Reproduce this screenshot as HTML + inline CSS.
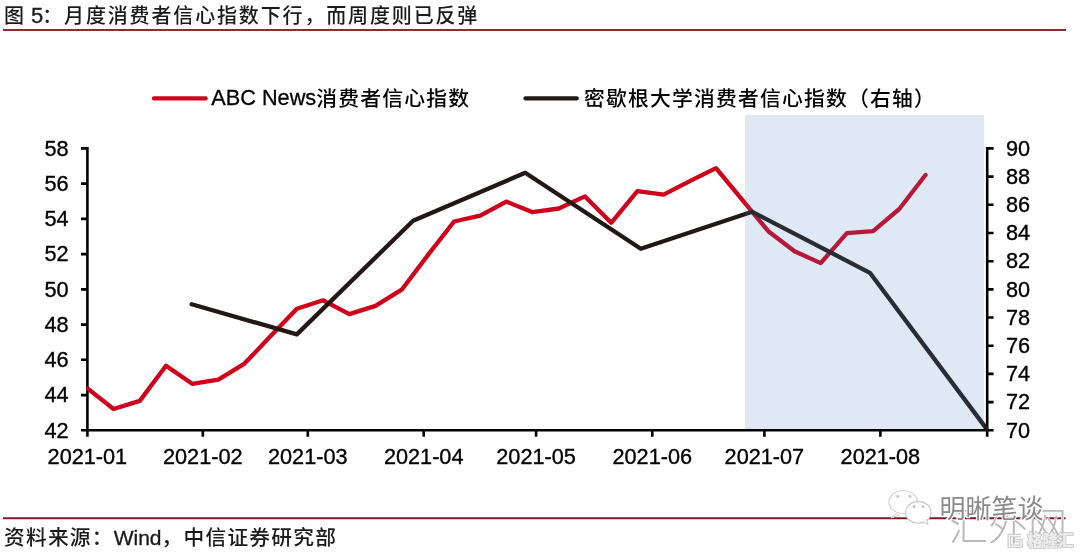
<!DOCTYPE html>
<html><head><meta charset="utf-8"><style>
html,body{margin:0;padding:0;background:#fff;}
body{width:1080px;height:556px;overflow:hidden;position:relative;}
svg{position:absolute;left:0;top:0;}
.t{font-family:"Liberation Sans","Noto Sans CJK SC",sans-serif;font-size:21.7px;fill:#000;stroke:#000;stroke-width:0.35px;}
.lg{font-family:"Liberation Sans","Noto Sans CJK SC",sans-serif;font-size:22px;font-weight:500;fill:#000;}
.ti{font-family:"Liberation Sans","Noto Sans CJK SC",sans-serif;font-size:22px;font-weight:500;fill:#1a1a1a;}
</style></head><body>
<svg width="1080" height="556" viewBox="0 0 1080 556">
<path d="M81.0,148.4H87.4V430.3M81.0,148.4H87.4M81.0,183.6H87.4M81.0,218.9H87.4M81.0,254.1H87.4M81.0,289.4H87.4M81.0,324.6H87.4M81.0,359.8H87.4M81.0,395.1H87.4M81.0,430.3H87.4M987.2,148.4H993.6M987.2,176.6H993.6M987.2,204.8H993.6M987.2,233.0H993.6M987.2,261.2H993.6M987.2,289.4H993.6M987.2,317.5H993.6M987.2,345.7H993.6M987.2,373.9H993.6M987.2,402.1H993.6M987.2,430.3H993.6M993.6,148.4H987.2V430.3M81.0,430.3H993.6M87.4,430.3V436.7M202.8,430.3V436.7M307.8,430.3V436.7M423.7,430.3V436.7M536.1,430.3V436.7M652.3,430.3V436.7M764.4,430.3V436.7M880.4,430.3V436.7M987.2,430.3V436.7" fill="none" stroke="#000" stroke-width="2.6"/>
<defs><clipPath id="pc"><rect x="86.2" y="100" width="902" height="331"/></clipPath></defs>
<polyline clip-path="url(#pc)" points="87.4,388.4 113.6,409.0 139.8,400.9 166.0,365.7 192.2,383.8 218.4,379.6 244.5,363.6 270.7,336.1 296.9,308.8 323.1,300.3 349.3,314.1 375.5,305.9 401.7,289.7 427.9,255.1 454.1,221.5 480.2,215.7 506.4,201.6 532.6,212.2 558.8,208.5 585.0,196.4 611.2,222.8 637.4,191.1 663.6,194.6 689.8,181.1 716.0,168.1 742.1,199.6 768.3,231.2 794.5,251.3 820.7,263.1 846.9,233.2 873.1,231.2 899.3,209.0 925.5,175.0" fill="none" stroke="#d0021b" stroke-width="4.3" stroke-linejoin="round" stroke-linecap="round"/>
<polyline clip-path="url(#pc)" points="191.7,304.2 296.8,334.4 413.1,220.8 525.2,172.8 640.8,248.8 752.2,211.8 869.9,272.8 987.2,429.6" fill="none" stroke="#231815" stroke-width="4.3" stroke-linejoin="round" stroke-linecap="round"/>
<rect x="745" y="115" width="239" height="314.1" fill="#4a86c8" fill-opacity="0.18"/>
<text x="68.7" y="155.6" text-anchor="end" class="t">58</text>
<text x="68.7" y="190.8" text-anchor="end" class="t">56</text>
<text x="68.7" y="226.1" text-anchor="end" class="t">54</text>
<text x="68.7" y="261.3" text-anchor="end" class="t">52</text>
<text x="68.7" y="296.6" text-anchor="end" class="t">50</text>
<text x="68.7" y="331.8" text-anchor="end" class="t">48</text>
<text x="68.7" y="367.0" text-anchor="end" class="t">46</text>
<text x="68.7" y="402.3" text-anchor="end" class="t">44</text>
<text x="68.7" y="437.5" text-anchor="end" class="t">42</text>
<text x="1006" y="155.6" class="t">90</text>
<text x="1006" y="183.8" class="t">88</text>
<text x="1006" y="212.0" class="t">86</text>
<text x="1006" y="240.2" class="t">84</text>
<text x="1006" y="268.4" class="t">82</text>
<text x="1006" y="296.6" class="t">80</text>
<text x="1006" y="324.7" class="t">78</text>
<text x="1006" y="352.9" class="t">76</text>
<text x="1006" y="381.1" class="t">74</text>
<text x="1006" y="409.3" class="t">72</text>
<text x="1006" y="437.5" class="t">70</text>
<text x="87.4" y="463.6" text-anchor="middle" class="t">2021-01</text>
<text x="202.8" y="463.6" text-anchor="middle" class="t">2021-02</text>
<text x="307.8" y="463.6" text-anchor="middle" class="t">2021-03</text>
<text x="423.7" y="463.6" text-anchor="middle" class="t">2021-04</text>
<text x="536.1" y="463.6" text-anchor="middle" class="t">2021-05</text>
<text x="652.3" y="463.6" text-anchor="middle" class="t">2021-06</text>
<text x="764.4" y="463.6" text-anchor="middle" class="t">2021-07</text>
<text x="880.4" y="463.6" text-anchor="middle" class="t">2021-08</text>
<path d="M154,98.4H205.6" stroke="#d0021b" stroke-width="4.3" stroke-linecap="round"/>
<path d="M525.5,98.4H576.7" stroke="#231815" stroke-width="4.3" stroke-linecap="round"/>
<text x="211.3" y="105.3" class="lg" fill="#000"><tspan style="font-size:21.7px;letter-spacing:0px;stroke:#000;stroke-width:0.3px">ABC News</tspan><tspan dy="0.9" style="font-size:20.8px;letter-spacing:1.2px;font-weight:500">消费者信心指数</tspan></text>
<text x="584" y="106.2" class="lg" fill="#000"><tspan style="font-size:20.8px;letter-spacing:1.2px;font-weight:500">密歇根大学消费者信心指数（右轴）</tspan></text>
<text x="4" y="23.3" class="ti" fill="#111"><tspan style="font-size:20px;letter-spacing:1.85px;font-weight:500">图</tspan><tspan style="font-size:22px;letter-spacing:-1.0px;stroke:#111;stroke-width:0.3px"> 5</tspan><tspan style="font-size:20px;letter-spacing:1.85px;font-weight:500">：月度消费者信心指数下行，而周度则已反弹</tspan></text>
<path d="M3,30H1066" stroke="#8c2c32" stroke-width="2.1"/>
<path d="M3,518.3H1065.5" stroke="#7a1a29" stroke-width="1.9"/>
<text x="4" y="545.3" class="ti" fill="#111"><tspan style="font-size:20.7px;letter-spacing:1.25px;font-weight:500">资料来源：</tspan><tspan style="font-size:21px;letter-spacing:0px;stroke:#111;stroke-width:0.3px">Wind</tspan><tspan style="font-size:20.7px;letter-spacing:1.25px;font-weight:500">，中信证券研究部</tspan></text>
<g>
<text x="949" y="540" style="font-family:'Noto Sans CJK SC',sans-serif;font-size:39px;font-weight:300;letter-spacing:0.5px" fill="#b8b8b8" stroke="#fff" stroke-width="1" paint-order="stroke">汇外网</text>
<path d="M1021,535.6H1009.3V546.3H1021V540.6H1015.5" fill="none" stroke="#cdcdcd" stroke-width="3.6"/>
<path d="M1021,535.6H1009.3V546.3H1021V540.6H1015.5" fill="none" stroke="#f6f6f6" stroke-width="1.3"/>
<text x="1027" y="546" style="font-family:'Noto Sans CJK SC',sans-serif;font-size:15.5px;font-weight:900" fill="#ededed" stroke="#c4c4c4" stroke-width="1.5" paint-order="stroke">格隆汇</text>
<path d="M896,513.5 L891,518 L899,515.2 Z" fill="#fff" stroke="#cfcfcf" stroke-width="1"/>
<ellipse cx="903.2" cy="502.1" rx="14.3" ry="11.3" fill="#fff" stroke="#cfcfcf" stroke-width="1.1"/>
<circle cx="897.8" cy="496.4" r="1.3" fill="#bdbdbd"/><circle cx="910.2" cy="496.4" r="1.3" fill="#bdbdbd"/>
<ellipse cx="918.3" cy="512.4" rx="12.7" ry="10.8" fill="#fff" stroke="#c8c8c8" stroke-width="1.1"/>
<path d="M923.5,521.8 L928,524.5 L926.5,519.5" fill="#fff" stroke="#c8c8c8" stroke-width="1"/>
<circle cx="914" cy="506.6" r="1.3" fill="#bdbdbd"/><circle cx="923.1" cy="506.6" r="1.3" fill="#bdbdbd"/>
<text x="939.5" y="518" style="font-family:'Noto Sans CJK SC',sans-serif;font-size:26px;font-weight:400" fill="#8a8a8a" stroke="#fff" stroke-width="2.2" paint-order="stroke">明晰笔谈</text>
</g>
</svg>
</body></html>
